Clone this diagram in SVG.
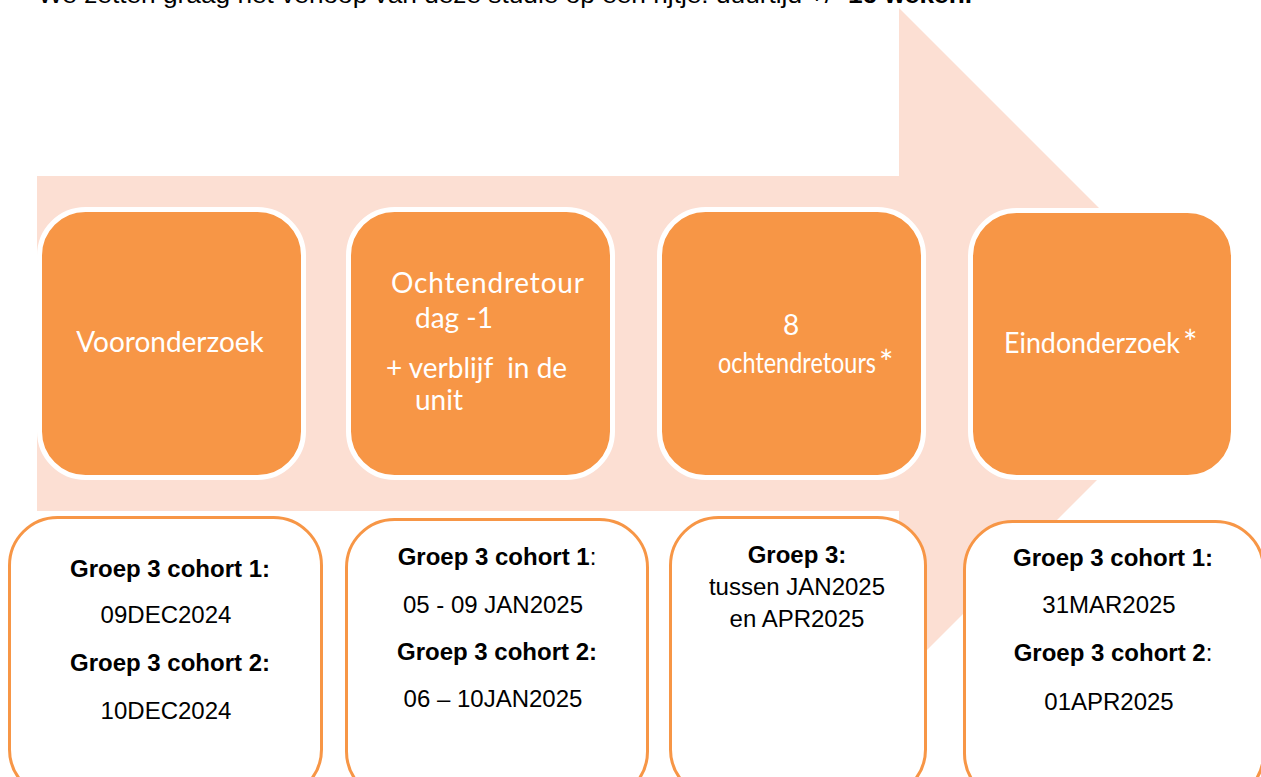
<svg xmlns="http://www.w3.org/2000/svg" width="1261" height="777" viewBox="0 0 1261 777">
<style>
.top{fill:#F79646;stroke:#FFFFFF;stroke-width:5}
.bot{fill:#FFFFFF;stroke:#F79646;stroke-width:3}
.tt{font-family:"Lato","Open Sans",sans-serif;font-size:28px;fill:#FFFFFF}
.bt{font-family:"Liberation Sans",Arial,sans-serif;font-size:24px;fill:#000000;text-anchor:middle}
.b{font-weight:bold}
.ast{font-size:34px}
</style>
<rect width="1261" height="777" fill="#FFFFFF"/>
<text x="38" y="3" font-family="Liberation Sans, Arial, sans-serif" font-size="24" fill="#000" textLength="934" lengthAdjust="spacingAndGlyphs">We zetten graag het verloop van deze studie op een rijtje: duurtijd +/- <tspan font-weight="bold">16 weken.</tspan></text>
<g id="arrow">
<polygon points="37,176 899,176 899,8 1234,343 899,678 899,511 37,511" fill="#FCDFD3"/>
</g>
<g id="connectors"></g>
<g id="n1">
<rect class="top" x="39.5" y="209.5" width="264" height="268" rx="46"/>
<text class="tt" x="170" y="352" text-anchor="middle">Vooronderzoek</text>
</g>
<g id="n2">
<rect class="top" x="348.5" y="209.5" width="264" height="268" rx="46"/>
<text class="tt" x="391" y="293" textLength="193">Ochtendretour</text>
<text class="tt" x="415" y="328">dag -1</text>
<text class="tt" x="386" y="378" xml:space="preserve">+ verblijf  in de</text>
<text class="tt" x="415" y="410">unit</text>
</g>
<g id="n3">
<rect class="top" x="659.5" y="209.5" width="264" height="268" rx="46"/>
<text class="tt" x="791" y="335" text-anchor="middle" font-size="30">8</text>
<text class="tt" x="718" y="373" textLength="158" lengthAdjust="spacingAndGlyphs">ochtendretours</text>
<text class="tt ast" x="879" y="375">*</text>
</g>
<g id="n4">
<rect class="top" x="970.5" y="210.5" width="263" height="267" rx="46"/>
<text class="tt" x="1004" y="353" textLength="176" lengthAdjust="spacingAndGlyphs">Eindonderzoek</text>
<text class="tt ast" x="1183" y="355">*</text>
</g>
<g id="d1">
<rect class="bot" x="9.5" y="517.5" width="312" height="280" rx="48"/>
<text class="bt" x="170" y="577"><tspan class="b">Groep 3 cohort 1:</tspan></text>
<text class="bt" x="166" y="623">09DEC2024</text>
<text class="bt" x="170" y="671"><tspan class="b">Groep 3 cohort 2:</tspan></text>
<text class="bt" x="166" y="719">10DEC2024</text>
</g>
<g id="d2">
<rect class="bot" x="346.5" y="519.5" width="301" height="280" rx="48"/>
<text class="bt" x="497" y="565"><tspan class="b">Groep 3 cohort 1</tspan>:</text>
<text class="bt" x="493" y="613">05 - 09 JAN2025</text>
<text class="bt" x="497" y="660"><tspan class="b">Groep 3 cohort 2:</tspan></text>
<text class="bt" x="493" y="707">06 – 10JAN2025</text>
</g>
<g id="d3">
<rect class="bot" x="670.5" y="517.5" width="255" height="280" rx="48"/>
<text class="bt" x="797" y="563"><tspan class="b">Groep 3:</tspan></text>
<text class="bt" x="797" y="595">tussen JAN2025</text>
<text class="bt" x="797" y="627">en APR2025</text>
</g>
<g id="d4">
<rect class="bot" x="964.5" y="521.5" width="299" height="280" rx="48"/>
<text class="bt" x="1113" y="566"><tspan class="b">Groep 3 cohort 1:</tspan></text>
<text class="bt" x="1109" y="613">31MAR2025</text>
<text class="bt" x="1113" y="661"><tspan class="b">Groep 3 cohort 2</tspan>:</text>
<text class="bt" x="1109" y="710">01APR2025</text>
</g>
</svg>
